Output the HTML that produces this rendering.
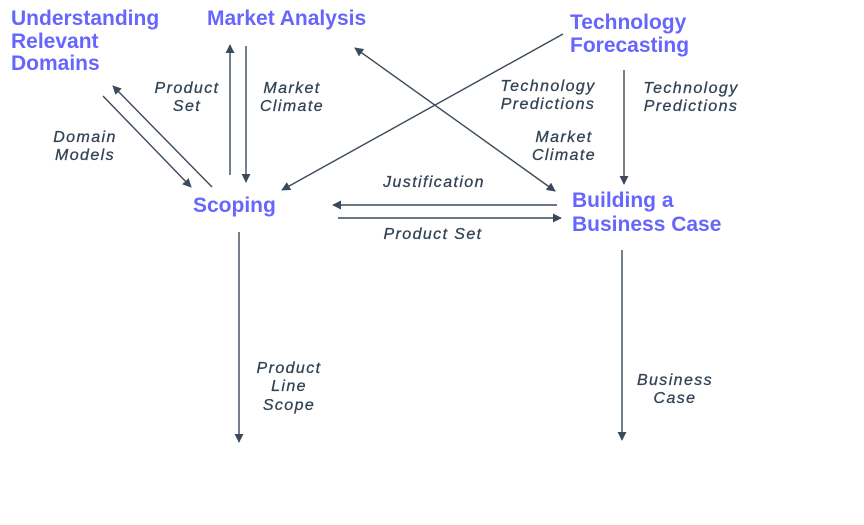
<!DOCTYPE html>
<html><head><meta charset="utf-8"><style>
html,body{margin:0;padding:0;background:#fff;width:864px;height:525px;overflow:hidden}
.h{font-family:"Liberation Sans",sans-serif;font-weight:bold;font-size:21px;fill:#6666ff}
.l{font-family:"Liberation Sans",sans-serif;font-style:italic;font-size:16px;fill:#334455;text-anchor:middle;letter-spacing:1.4px;stroke:#334455;stroke-width:0.3}
line{stroke:#3a4a5a;stroke-width:1.4}
</style></head><body>
<svg width="864" height="525" viewBox="0 0 864 525" xmlns="http://www.w3.org/2000/svg">
<defs><marker id="a" viewBox="0 0 10 10" refX="9" refY="5" markerWidth="9" markerHeight="9" orient="auto-start-reverse" markerUnits="userSpaceOnUse"><path d="M0,0L10,5L0,10z" fill="#3a4a5a"/></marker></defs>
<text class="h" x="11" y="25">Understanding</text>
<text class="h" x="11" y="48">Relevant</text>
<text class="h" x="11" y="70">Domains</text>
<text class="h" x="207" y="25">Market Analysis</text>
<text class="h" x="570" y="29">Technology</text>
<text class="h" x="570" y="52">Forecasting</text>
<text class="h" x="193" y="212">Scoping</text>
<text class="h" x="572" y="207">Building a</text>
<text class="h" x="572" y="231">Business Case</text>

<line x1="103" y1="96" x2="191" y2="187" marker-end="url(#a)"/>
<line x1="212" y1="187" x2="113" y2="86" marker-end="url(#a)"/>
<line x1="230" y1="175" x2="230" y2="45" marker-end="url(#a)"/>
<line x1="246" y1="46" x2="246" y2="182" marker-end="url(#a)"/>
<line x1="563" y1="34" x2="282" y2="190" marker-end="url(#a)"/>
<line x1="355" y1="48" x2="555" y2="191" marker-start="url(#a)" marker-end="url(#a)"/>
<line x1="557" y1="205" x2="333" y2="205" marker-end="url(#a)"/>
<line x1="338" y1="218" x2="561" y2="218" marker-end="url(#a)"/>
<line x1="624" y1="70" x2="624" y2="184" marker-end="url(#a)"/>
<line x1="239" y1="232" x2="239" y2="442" marker-end="url(#a)"/>
<line x1="622" y1="250" x2="622" y2="440" marker-end="url(#a)"/>

<text class="l" x="187" y="93">Product</text>
<text class="l" x="187" y="111">Set</text>
<text class="l" x="292" y="93">Market</text>
<text class="l" x="292" y="111">Climate</text>
<text class="l" x="85" y="142">Domain</text>
<text class="l" x="85" y="160">Models</text>
<text class="l" x="548" y="91">Technology</text>
<text class="l" x="548" y="109">Predictions</text>
<text class="l" x="691" y="93">Technology</text>
<text class="l" x="691" y="111">Predictions</text>
<text class="l" x="564" y="142">Market</text>
<text class="l" x="564" y="160">Climate</text>
<text class="l" x="434" y="187">Justification</text>
<text class="l" x="433" y="239">Product Set</text>
<text class="l" x="289" y="373">Product</text>
<text class="l" x="289" y="391">Line</text>
<text class="l" x="289" y="410">Scope</text>
<text class="l" x="675" y="385">Business</text>
<text class="l" x="675" y="403">Case</text>
</svg>
</body></html>
